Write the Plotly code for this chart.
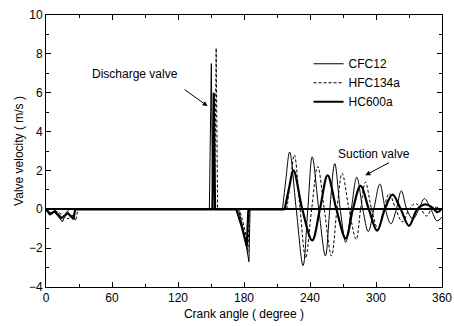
import plotly.graph_objects as go

# ---- data ----
# discharge / early part (linear segments)
cfc12_x1 = [0, 3, 7, 15, 18, 21, 148.5, 150.3, 151.5, 175, 180, 184.5, 185.5, 215]
cfc12_y1 = [0, -0.3, -0.1, -0.65, -0.2, 0, 0, 7.5, 0, 0, -1.2, -2.7, 0, 0]
hfc_x1 = [0, 5, 10, 20, 24, 27, 29, 153.3, 154.7, 156, 176, 181, 183.5, 185, 219]
hfc_y1 = [0, -0.2, -0.1, -0.5, -0.3, -0.6, 0, 0, 8.3, 0, 0, -1.1, -2.2, 0, 0]
hc_x1 = [0, 4, 8, 14, 20, 25, 26.5, 151.3, 152.5, 153.7, 173, 178, 182.5, 184, 217]
hc_y1 = [0, -0.25, -0.1, -0.45, -0.2, -0.5, 0, 0, 6.0, 0, 0, -0.9, -1.9, 0, 0]

# suction part (smooth oscillations: peaks, troughs, crossings)
cfc12_x2 = [215, 218, 221.5, 227.5, 233.7, 238, 242, 248, 254, 258, 262.5, 267.5,
            272.5, 277.5, 282.5, 288, 293, 298, 303.5, 308.5, 313.5, 318.5, 323,
            328, 333.5, 339, 344, 350, 355.5, 360]
cfc12_y2 = [0, 1.5, 2.95, 0, -2.9, 0, 2.7, 0, -2.4, 0, 2.35, 0,
            -1.7, 0, 1.65, 0, -1.15, 0, 1.3, 0, -0.75, 0, 0.95,
            0, -0.5, 0, 0.55, 0, -0.6, -0.4]
hfc_x2 = [219, 222.5, 225.8, 231, 236, 241.5, 247, 253, 259.5, 264.5, 269.2, 275.5,
          282, 286, 290.4, 296, 302, 307, 312, 318, 324, 330, 336, 341, 346, 352, 360]
hfc_y2 = [0, 1.6, 2.8, 0, -2.5, 0, 2.2, 0, -2.4, 0, 1.85, 0,
          -1.55, 0, 1.4, 0, -1.05, 0, 0.8, 0, -0.65, 0, 0.3, 0, -0.35, 0.1, 0]
hc_x2 = [217, 221, 225, 233, 242, 249, 256, 264, 272.5, 279, 286, 293.5, 301,
         308, 315, 322.5, 330, 337.5, 345, 351, 356, 360]
hc_y2 = [0, 1.1, 2.0, 0, -1.6, 0, 1.75, 0, -1.5, 0, 1.2, 0, -1.1,
         0, 0.75, 0, -0.85, 0, 0.25, 0.1, -0.15, 0.05]

x_ticks = [0, 60, 120, 180, 240, 300, 360]
y_ticks = [-4, -2, 0, 2, 4, 6, 8, 10]

FONT = "Liberation Sans, Arial, sans-serif"

fig = go.Figure()
series = [
    ("CFC12", cfc12_x1, cfc12_y1, cfc12_x2, cfc12_y2, dict(color="black", width=1)),
    ("HFC134a", hfc_x1, hfc_y1, hfc_x2, hfc_y2, dict(color="black", width=1, dash="3px,2px")),
    ("HC600a", hc_x1, hc_y1, hc_x2, hc_y2, dict(color="black", width=2.2)),
]
for name, x1, y1, x2, y2, ln in series:
    fig.add_trace(go.Scatter(x=x1, y=y1, mode="lines", name=name, legendgroup=name,
                             line=ln, showlegend=True))
    fig.add_trace(go.Scatter(x=x2, y=y2, mode="lines", name=name, legendgroup=name,
                             line=dict(ln, shape="spline", smoothing=1.0), showlegend=False))

axis_common = dict(
    showline=True, linecolor="black", linewidth=1, mirror="ticks",
    ticks="inside", ticklen=5, tickcolor="black", tickwidth=1,
    showgrid=False, tickfont=dict(family=FONT, size=12, color="black"),
    automargin=False,
)
fig.update_xaxes(range=[0, 360], tickvals=x_ticks, zeroline=False,
                 minor=dict(ticks="inside", ticklen=3, dtick=30, tickcolor="black", showgrid=False),
                 title=dict(text="Crank angle ( degree )", font=dict(family=FONT, size=12, color="black"), standoff=5),
                 **axis_common)
fig.update_yaxes(range=[-4, 10], tickvals=y_ticks, zeroline=True, zerolinecolor="black", zerolinewidth=1.5,
                 minor=dict(ticks="inside", ticklen=3, dtick=1, tickcolor="black", showgrid=False),
                 title=dict(text="Valve velocity ( m/s )", font=dict(family=FONT, size=12, color="black"), standoff=2),
                 **axis_common)

fig.add_annotation(x=81.3, y=6.96, text="Discharge valve", showarrow=False,
                   font=dict(family=FONT, size=12, color="black"))
fig.add_annotation(x=146.9, y=5.31, ax=124.6, ay=6.22, axref="x", ayref="y", text="",
                   showarrow=True, arrowhead=2, arrowsize=1, arrowwidth=1, arrowcolor="black")
fig.add_annotation(x=298.5, y=2.87, text="Suction valve", showarrow=False,
                   font=dict(family=FONT, size=12, color="black"))
fig.add_annotation(x=290.3, y=1.75, ax=313.1, ay=2.44, axref="x", ayref="y", text="",
                   showarrow=True, arrowhead=2, arrowsize=1, arrowwidth=1, arrowcolor="black")

fig.update_layout(
    width=454, height=326,
    margin=dict(l=46, r=12, t=15, b=39, autoexpand=False),
    paper_bgcolor="white", plot_bgcolor="white",
    font=dict(family=FONT, size=12, color="black"),
    legend=dict(x=0.663, y=0.874, xanchor="left", yanchor="top", bgcolor="rgba(0,0,0,0)",
                font=dict(family=FONT, size=12, color="black"), tracegroupgap=0,
                itemwidth=30),
)

fig.write_html("out.html")
